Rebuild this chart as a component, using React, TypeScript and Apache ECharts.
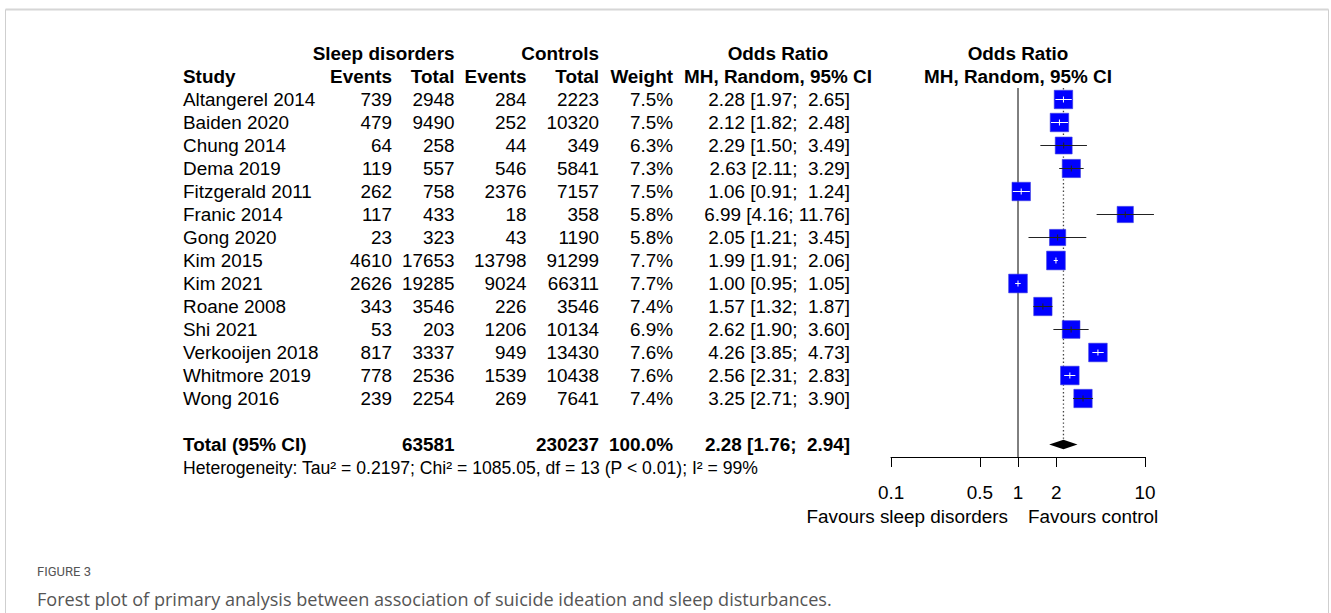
import React, { useEffect, useRef } from "react";
import * as echarts from "echarts";

// ---------------- data ----------------
const studies = [
  "Altangerel 2014", "Baiden 2020", "Chung 2014", "Dema 2019", "Fitzgerald 2011",
  "Franic 2014", "Gong 2020", "Kim 2015", "Kim 2021", "Roane 2008",
  "Shi 2021", "Verkooijen 2018", "Whitmore 2019", "Wong 2016",
];
const sleepEvents = [739, 479, 64, 119, 262, 117, 23, 4610, 2626, 343, 53, 817, 778, 239];
const sleepTotal = [2948, 9490, 258, 557, 758, 433, 323, 17653, 19285, 3546, 203, 3337, 2536, 2254];
const ctrlEvents = [284, 252, 44, 546, 2376, 18, 43, 13798, 9024, 226, 1206, 949, 1539, 269];
const ctrlTotal = [2223, 10320, 349, 5841, 7157, 358, 1190, 91299, 66311, 3546, 10134, 13430, 10438, 7641];
const weights = [7.5, 7.5, 6.3, 7.3, 7.5, 5.8, 5.8, 7.7, 7.7, 7.4, 6.9, 7.6, 7.6, 7.4];
const oddsRatio = [2.28, 2.12, 2.29, 2.63, 1.06, 6.99, 2.05, 1.99, 1.0, 1.57, 2.62, 4.26, 2.56, 3.25];
const ciLower = [1.97, 1.82, 1.5, 2.11, 0.91, 4.16, 1.21, 1.91, 0.95, 1.32, 1.9, 3.85, 2.31, 2.71];
const ciUpper = [2.65, 2.48, 3.49, 3.29, 1.24, 11.76, 3.45, 2.06, 1.05, 1.87, 3.6, 4.73, 2.83, 3.9];
const pooledOR = [2.28];
const pooledLower = [1.76];
const pooledUpper = [2.94];
const totalWeight = "100.0%";
const heterogeneity = "Heterogeneity: Tau\u00b2 = 0.2197; Chi\u00b2 = 1085.05, df = 13 (P < 0.01); I\u00b2 = 99%";
const axisTicks = [0.1, 0.5, 1, 2, 10];
const favourLeft = "Favours sleep disorders";
const favourRight = "Favours control";
const figureLabel = "FIGURE 3";
const caption = "Forest plot of primary analysis between association of suicide ideation and sleep disturbances.";

// ---------------- layout ----------------
const FONT = "'Liberation Sans', Arial, Helvetica, sans-serif";
const CAP_FONT = "'Open Sans', Roboto, sans-serif";
const FS = 18.9;
const ROW0 = 99.5;
const ROWH = 23;
const rowY = (i: number) => ROW0 + ROWH * i;
const TOTAL_ROW = 15;
const Y_MIN = -0.5;
const AXIS_Y = 457;
const Y_MAX = (AXIS_Y - ROW0) / ROWH;
const BOX_K = 6.74;

const COL = {
  study: 183,
  sEv: 392,
  sTot: 454.5,
  cEv: 526.5,
  cTot: 599,
  weight: 673,
  or: 850,
  orHead: 778,
  plotHead: 1018,
};

const fmt = (v: number) => v.toFixed(2);
const ciText = (o: number, l: number, h: number) =>
  `${fmt(o)} [${fmt(l)}; ${fmt(h).padStart(5, "\u00a0")}]`;

function txt(text: string, x: number, y: number, align = "left", bold = false, size = FS, family = FONT, fill = "#000") {
  return {
    type: "text",
    x,
    y,
    silent: true,
    style: {
      text,
      fill,
      fontSize: size,
      fontFamily: family,
      fontWeight: bold ? "bold" : "normal",
      align,
      textAlign: align,
      verticalAlign: "middle",
      textVerticalAlign: "middle",
    },
  };
}

export default function App() {
  const ref = useRef<HTMLDivElement>(null);

  useEffect(() => {
    if (!ref.current) return;
    const chart = echarts.init(ref.current, undefined, { renderer: "svg" });

    const sum = (a: number[]) => a.reduce((s, v) => s + v, 0);

    const graphics: any[] = [];
    // frame
    graphics.push({ type: "line", silent: true, shape: { x1: 5.5, y1: 9.5, x2: 1328.5, y2: 9.5 }, style: { stroke: "#d6d6d6", lineWidth: 2 } });
    graphics.push({ type: "line", silent: true, shape: { x1: 5.5, y1: 9.5, x2: 5.5, y2: 613 }, style: { stroke: "#cfcfcf", lineWidth: 1 } });
    graphics.push({ type: "line", silent: true, shape: { x1: 1328.5, y1: 9.5, x2: 1328.5, y2: 613 }, style: { stroke: "#cfcfcf", lineWidth: 1 } });

    // headers
    const h1 = rowY(-2);
    const h2 = rowY(-1);
    graphics.push(txt("Sleep disorders", COL.sTot, h1, "right", true));
    graphics.push(txt("Controls", COL.cTot, h1, "right", true));
    graphics.push(txt("Odds Ratio", COL.orHead, h1, "center", true));
    graphics.push(txt("Odds Ratio", COL.plotHead, h1, "center", true));
    graphics.push(txt("Study", COL.study, h2, "left", true));
    graphics.push(txt("Events", COL.sEv, h2, "right", true));
    graphics.push(txt("Total", COL.sTot, h2, "right", true));
    graphics.push(txt("Events", COL.cEv, h2, "right", true));
    graphics.push(txt("Total", COL.cTot, h2, "right", true));
    graphics.push(txt("Weight", COL.weight, h2, "right", true));
    graphics.push(txt("MH, Random, 95% CI", COL.orHead, h2, "center", true));
    graphics.push(txt("MH, Random, 95% CI", COL.plotHead, h2, "center", true));

    // rows
    studies.forEach((s, i) => {
      const y = rowY(i);
      graphics.push(txt(s, COL.study, y));
      graphics.push(txt(String(sleepEvents[i]), COL.sEv, y, "right"));
      graphics.push(txt(String(sleepTotal[i]), COL.sTot, y, "right"));
      graphics.push(txt(String(ctrlEvents[i]), COL.cEv, y, "right"));
      graphics.push(txt(String(ctrlTotal[i]), COL.cTot, y, "right"));
      graphics.push(txt(`${weights[i].toFixed(1)}%`, COL.weight, y, "right"));
      graphics.push(txt(ciText(oddsRatio[i], ciLower[i], ciUpper[i]), COL.or, y, "right"));
    });

    // total
    const ty = rowY(TOTAL_ROW);
    graphics.push(txt("Total (95% CI)", COL.study, ty, "left", true));
    graphics.push(txt(String(sum(sleepTotal)), COL.sTot, ty, "right", true));
    graphics.push(txt(String(sum(ctrlTotal)), COL.cTot, ty, "right", true));
    graphics.push(txt(totalWeight, COL.weight, ty, "right", true));
    graphics.push(txt(ciText(pooledOR[0], pooledLower[0], pooledUpper[0]), COL.or, ty, "right", true));
    graphics.push(txt(heterogeneity, COL.study, rowY(TOTAL_ROW + 1), "left", false, 17.6));

    // favours
    graphics.push(txt(favourLeft, 1008, 516.5, "right"));
    graphics.push(txt(favourRight, 1028, 516.5, "left"));

    // caption
    graphics.push(txt(figureLabel, 37, 571, "left", false, 13, "Roboto, sans-serif", "#555"));
    graphics.push(txt(caption, 37, 599, "left", false, 18.1, CAP_FONT, "#555"));

    const studyData = studies.map((_, i) => [oddsRatio[i], ciLower[i], ciUpper[i], i, weights[i]]);
    const pooledData = [[pooledOR[0], pooledLower[0], pooledUpper[0], TOTAL_ROW]];

    const option: any = {
      animation: false,
      backgroundColor: "#fff",
      grid: { left: 891, width: 254, top: ROW0 + Y_MIN * ROWH, height: AXIS_Y - (ROW0 + Y_MIN * ROWH), containLabel: false },
      xAxis: {
        type: "log",
        logBase: 10,
        min: 0.1,
        max: 10,
        axisLine: { show: true, onZero: false, lineStyle: { color: "#000", width: 1 } },
        axisTick: { show: true, customValues: axisTicks, length: 10, lineStyle: { color: "#000", width: 1 } },
        axisLabel: {
          customValues: axisTicks,
          formatter: (v: number) => String(v),
          fontSize: FS,
          fontFamily: FONT,
          color: "#000",
          margin: 25.5,
        },
        splitLine: { show: false },
        minorTick: { show: false },
      },
      yAxis: { type: "value", inverse: true, min: Y_MIN, max: Y_MAX, show: false },
      graphic: graphics,
      series: [
        {
          type: "line",
          z: 1,
          silent: true,
          symbol: "none",
          data: [[1, Y_MIN], [1, Y_MAX]],
          lineStyle: { color: "#000", width: 1 },
        },
        {
          type: "custom",
          z: 2,
          silent: true,
          clip: false,
          data: pooledData,
          encode: { x: [0, 1, 2], y: 3 },
          renderItem: (_p: any, api: any) => {
            const o = api.value(0), l = api.value(1), h = api.value(2), r = api.value(3);
            const c = api.coord([o, r]);
            const xl = api.coord([l, r])[0];
            const xh = api.coord([h, r])[0];
            const top = api.coord([o, Y_MIN])[1];
            const hh = 4.8;
            return {
              type: "group",
              children: [
                { type: "line", shape: { x1: c[0], y1: top, x2: c[0], y2: c[1] - hh - 1 }, style: { stroke: "#444", lineWidth: 1.3, lineDash: [1.4, 2.4] } },
                { type: "polygon", shape: { points: [[xl, c[1]], [c[0], c[1] - hh], [xh, c[1]], [c[0], c[1] + hh]] }, style: { fill: "#000" } },
              ],
            };
          },
        },
        {
          type: "custom",
          z: 3,
          silent: true,
          clip: false,
          data: studyData,
          encode: { x: [0, 1, 2], y: 3 },
          renderItem: (_p: any, api: any) => {
            const o = api.value(0), l = api.value(1), h = api.value(2), r = api.value(3), w = api.value(4);
            const c = api.coord([o, r]);
            const xl = api.coord([l, r])[0];
            const xh = api.coord([h, r])[0];
            const side = BOX_K * Math.sqrt(w);
            const half = side / 2;
            const inside = xl >= c[0] - half && xh <= c[0] + half;
            const col = inside ? "#ffffff" : "#222";
            return {
              type: "group",
              children: [
                { type: "rect", shape: { x: c[0] - half, y: c[1] - half, width: side, height: side }, style: { fill: "#0000ff", stroke: "#3a3ae0", lineWidth: 0.6 } },
                { type: "line", shape: { x1: xl, y1: c[1], x2: xh, y2: c[1] }, style: { stroke: col, lineWidth: 1 } },
                { type: "line", shape: { x1: c[0], y1: c[1] - 3, x2: c[0], y2: c[1] + 3 }, style: { stroke: col, lineWidth: 1 } },
              ],
            };
          },
        },
      ],
    };

    chart.setOption(option);
    return () => chart.dispose();
  }, []);

  return (
    <div
      ref={ref}
      style={{ position: "fixed", left: 0, top: 0, width: 1331, height: 613, background: "#fff" }}
    />
  );
}
